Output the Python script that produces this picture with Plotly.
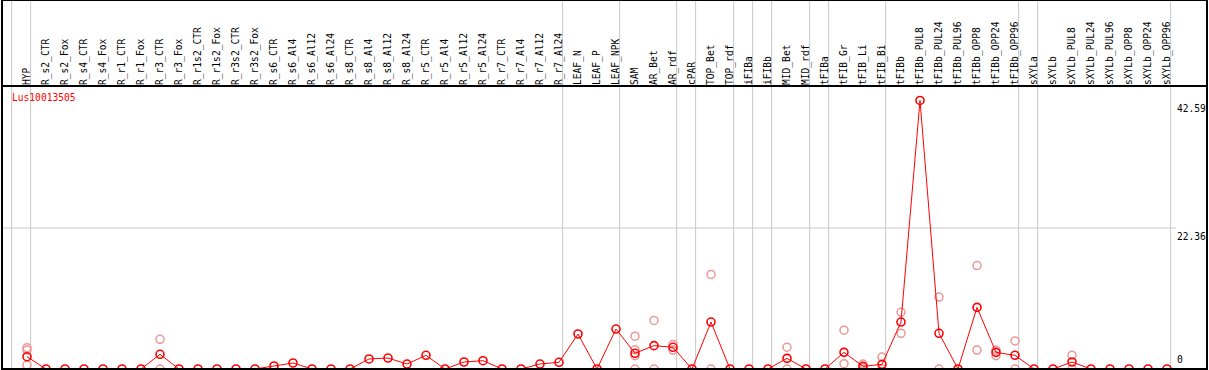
import plotly.graph_objects as go

categories = ["HYP", "R_s2_CTR", "R_s2_Fox", "R_s4_CTR", "R_s4_Fox", "R_r1_CTR", "R_r1_Fox",
              "R_r3_CTR", "R_r3_Fox", "R_r1s2_CTR", "R_r1s2_Fox", "R_r3s2_CTR", "R_r3s2_Fox",
              "R_s6_CTR", "R_s6_Al4", "R_s6_Al12", "R_s6_Al24", "R_s8_CTR", "R_s8_Al4", "R_s8_Al12",
              "R_s8_Al24", "R_r5_CTR", "R_r5_Al4", "R_r5_Al12", "R_r5_Al24", "R_r7_CTR", "R_r7_Al4",
              "R_r7_Al12", "R_r7_Al24", "LEAF_N", "LEAF_P", "LEAF_NPK", "SAM", "AR_Bet", "AR_rdf",
              "cPAR", "TOP_Bet", "TOP_rdf", "iFIBa", "iFIBb", "MID_Bet", "MID_rdf", "tFIBa",
              "tFIB_Gr", "tFIB_Li", "tFIB_Bi", "tFIBb", "tFIBb_PUL8", "tFIBb_PUL24", "tFIBb_PUL96",
              "tFIBb_OPP8", "tFIBb_OPP24", "tFIBb_OPP96", "sXYLa", "sXYLb", "sXYLb_PUL8",
              "sXYLb_PUL24", "sXYLb_PUL96", "sXYLb_OPP8", "sXYLb_OPP24", "sXYLb_OPP96"]

mean_values = [1.95, 0, 0, 0, 0, 0, 0,
               2.33, 0, 0, 0, 0, 0,
               0.48, 0.95, 0, 0, 0, 1.59, 1.74,
               0.79, 2.17, 0, 1.11, 1.32, 0, 0,
               0.79, 1.06, 5.55, 0, 6.34, 2.49, 3.7, 3.44,
               0, 7.45, 0, 0, 0, 1.69, 0, 0,
               2.64, 0.42, 0.74, 7.45, 42.59, 5.66, 0,
               9.78, 2.64, 2.17, 0, 0, 1.11,
               0, 0, 0, 0, 0]

replicate_category = ["HYP", "HYP", "HYP", "R_r3_CTR", "R_r3_CTR",
                      "SAM", "SAM", "SAM", "SAM", "AR_Bet", "AR_Bet", "AR_rdf", "AR_rdf",
                      "TOP_Bet", "TOP_Bet", "MID_Bet", "MID_Bet", "tFIB_Gr", "tFIB_Gr",
                      "tFIB_Li", "tFIB_Li", "tFIB_Bi", "tFIB_Bi", "tFIBb", "tFIBb",
                      "tFIBb_PUL24", "tFIBb_PUL24", "tFIBb_OPP8", "tFIBb_OPP8",
                      "tFIBb_OPP24", "tFIBb_OPP24", "tFIBb_OPP96", "tFIBb_OPP96",
                      "sXYLb_PUL8", "sXYLb_PUL8"]
replicate_values = [3.38, 3.0, 0.63, 4.7, 0,
                    5.2, 3.05, 2.1, 0, 7.7, 0, 3.9, 3.0,
                    15.0, 0, 3.45, 0, 6.15, 0.85,
                    0.78, 0, 1.9, 0, 9.0, 5.65,
                    11.4, 0, 16.4, 3.0,
                    3.0, 2.1, 4.45, 0,
                    2.17, 0]

# last category of each group (a separator line follows it); "" = before the first
group_ends = ["", "HYP", "R_r7_Al24", "LEAF_NPK", "AR_rdf", "cPAR", "TOP_rdf", "iFIBa",
              "iFIBb", "MID_rdf", "tFIBa", "tFIB_Bi", "tFIBb_OPP96", "sXYLa", "sXYLb_OPP96"]

y_tick_values = [42.59, 22.36, 0]
y_tick_labels = ["42.59", "22.36", "0"]
gene_name = "Lus10013505"

# ---- layout geometry ----
W, H = 1209, 370
ML, MR, MT, MB = 2, 2, 86, 1
PW, PH = W - ML - MR, H - MT - MB
STEP = 19.0
FIRST_PX = 27.0
x0 = (ML - FIRST_PX) / STEP
x1 = x0 + PW / STEP
ymax = 22.36 * PH / 141.0
top_paper = 1 + MT / PH

FONT = "DejaVu Sans Mono"
FS = 9.6
idx = {c: i for i, c in enumerate(categories)}
xs = list(range(len(categories)))
rep_x = [idx[c] for c in replicate_category]

fig = go.Figure()
fig.add_trace(go.Scatter(
    x=rep_x, y=replicate_values, mode="markers",
    marker=dict(symbol="circle-open", size=8, color="rgb(238,150,150)", line=dict(width=1.5)),
    hoverinfo="skip", showlegend=False))
fig.add_trace(go.Scatter(
    x=xs, y=mean_values, mode="lines+markers",
    line=dict(color="#ff0000", width=1),
    marker=dict(symbol="circle-open", size=8, color="#ff0000", line=dict(width=1.6)),
    showlegend=False))

shapes = []
for g in group_ends:
    gx = (idx[g] if g else -1) + 0.19
    shapes.append(dict(type="line", xref="x", yref="paper", x0=gx, x1=gx, y0=0, y1=top_paper,
                       line=dict(color="#c8c8c8", width=1), layer="below"))
# horizontal grid at middle tick
shapes.append(dict(type="line", xref="paper", yref="y", x0=0, x1=(1176 - ML) / PW,
                   y0=y_tick_values[1], y1=y_tick_values[1],
                   line=dict(color="#c8c8c8", width=1), layer="below"))
# frame
shapes.append(dict(type="rect", xref="paper", yref="paper", x0=0, x1=1, y0=0, y1=top_paper,
                   line=dict(color="black", width=2)))
shapes.append(dict(type="line", xref="paper", yref="paper", x0=0, x1=1, y0=1, y1=1,
                   line=dict(color="black", width=2)))

annotations = [dict(text=gene_name, xref="paper", yref="paper", x=(10 - ML) / PW,
                    y=(H - MB - 97) / PH, xanchor="left", yanchor="middle", showarrow=False,
                    font=dict(family=FONT, size=FS, color="#ff0000"))]
for v, t in zip(y_tick_values, y_tick_labels):
    if v == 0:
        ya, ys = "bottom", 2
    else:
        ya, ys = "top", -1
    annotations.append(dict(text=t, xref="paper", yref="y", x=(1175 - ML) / PW, y=v,
                            xanchor="left", yanchor=ya, yshift=ys, showarrow=False,
                            font=dict(family=FONT, size=FS, color="black")))

fig.update_layout(
    template="none",
    width=W, height=H, margin=dict(l=ML, r=MR, t=MT, b=MB, pad=0, autoexpand=False),
    paper_bgcolor="white", plot_bgcolor="white",
    xaxis=dict(range=[x0, x1], side="top", tickmode="array", tickvals=xs, ticktext=categories,
               tickangle=-90, ticks="", showgrid=False, zeroline=False, showline=False,
               automargin=False,
               tickfont=dict(family=FONT, size=FS, color="black")),
    yaxis=dict(range=[0, ymax], showticklabels=False, ticks="", showgrid=False,
               zeroline=False, showline=False, automargin=False),
    shapes=shapes, annotations=annotations,
)

fig.write_html(
    "out.html",
    config={"displayModeBar": False},
    post_script="document.body.style.margin='0px';document.documentElement.style.overflow='hidden';",
)
